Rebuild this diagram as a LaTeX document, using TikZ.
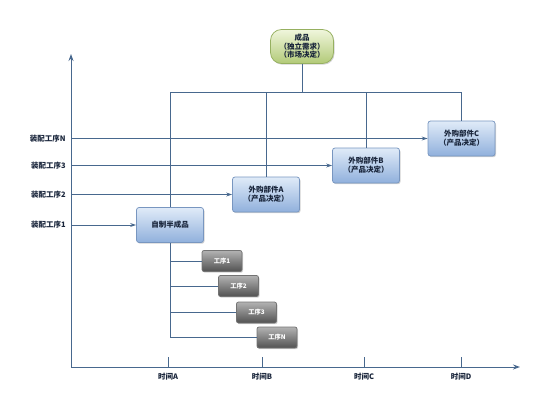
\documentclass[tikz,border=0pt]{standalone}
\usepackage{fontspec}
\setmainfont{Noto Sans CJK SC}
\usetikzlibrary{arrows.meta,shadows}

\definecolor{axisblue}{RGB}{72,104,142}
\definecolor{partdraw}{RGB}{120,150,192}
\definecolor{parttop}{RGB}{224,235,248}
\definecolor{partbot}{RGB}{144,176,220}
\definecolor{goaltop}{RGB}{240,246,220}
\definecolor{goalbot}{RGB}{178,202,120}
\definecolor{goaldraw}{RGB}{150,176,96}
\definecolor{boxtext}{RGB}{24,36,58}

\tikzset{every picture/.style={line width=0.75pt}}

\begin{document}
\begin{tikzpicture}[x=1pt,y=1pt,yscale=-1,
  axis/.style={draw=axisblue, line width=1pt},
  link/.style={draw=axisblue, line width=0.9pt},
  feed/.style={link, -{Stealth[length=6pt,width=4pt]}},
  boxshadow/.style={drop shadow={opacity=0.35, shadow xshift=1pt, shadow yshift=-1.2pt}},
  partbox/.style={boxshadow, draw=partdraw, top color=parttop, bottom color=partbot,
    rounded corners=2.5pt, minimum width=67pt, minimum height=35pt, inner sep=1pt,
    align=center, text=boxtext, font=\fontsize{7.5}{9}\selectfont\bfseries},
  stepbox/.style={boxshadow, draw=black!55, top color=black!30, bottom color=black!68,
    rounded corners=2pt, minimum width=40pt, minimum height=21pt, inner sep=1pt,
    text=white, font=\fontsize{6.3}{7}\selectfont\bfseries},
  goalbox/.style={boxshadow, draw=goaldraw, top color=goaltop, bottom color=goalbot,
    rounded corners=11pt, minimum width=63pt, minimum height=34pt, inner sep=1pt,
    align=center, text=boxtext, font=\fontsize{7.5}{8.6}\selectfont\bfseries},
  lvllabel/.style={anchor=east, inner sep=1pt, text=boxtext, font=\fontsize{7.5}{9}\selectfont\bfseries},
  timelabel/.style={anchor=north, inner sep=1pt, text=boxtext, font=\fontsize{7.5}{9}\selectfont\bfseries}]
\useasboundingbox (0,0) rectangle (554,392);

% axes
\coordinate (origin) at (71,367);
\coordinate (ytip) at (71,54);
\coordinate (xtip) at (520,367);
\draw [axis, -{Stealth[length=7pt,width=5pt]}] (origin) -- (ytip);
\draw [axis, -{Stealth[length=7pt,width=5pt]}] (origin) -- (xtip);

% nodes
\node [goalbox] (product) at (302,46.5) {成品\\（独立需求）\\（市场决定）};
\node [partbox] (semi) at (170,225) {自制半成品};
\node [partbox] (partA) at (266,194.5) {外购部件A\\（产品决定）};
\node [partbox] (partB) at (366,165.5) {外购部件B\\（产品决定）};
\node [partbox] (partC) at (461.5,138.5) {外购部件C\\（产品决定）};

\node [stepbox] (step1) at (222,261) {工序1};
\node [stepbox] (step2) at (238.5,286) {工序2};
\node [stepbox] (step3) at (256.5,312.5) {工序3};
\node [stepbox] (stepN) at (277,337.5) {工序N};

% bus from the product down
\coordinate (busL) at (170,92);
\coordinate (busR) at (462,92);
\draw [link] (product) -- (product |- busL);
\draw [link] (busL) -- (busR);
\draw [link] (busL) -- (semi.north);
\draw [link] (partA.north) -- (partA.north |- busL);
\draw [link] (partB.north) -- (partB.north |- busL);
\draw [link] (partC.north) -- (partC.north |- busL);

% steps of the semi-finished part
\draw [link] (semi.south) -- (semi.south |- stepN.west);
\foreach \s in {step1,step2,step3,stepN}
  \draw [link] (semi.south |- \s.west) -- (\s.west);

% assembly levels
\node [lvllabel] (lvl1) at (67,225) {装配工序1};
\node [lvllabel] (lvl2) at (67,194.5) {装配工序2};
\node [lvllabel] (lvl3) at (67,165.5) {装配工序3};
\node [lvllabel] (lvlN) at (67,138.5) {装配工序N};
\draw [feed] (origin |- semi.west) -- (semi.west);
\draw [feed] (origin |- partA.west) -- (partA.west);
\draw [feed] (origin |- partB.west) -- (partB.west);
\draw [feed] (origin |- partC.west) -- (partC.west);

% time ticks
\foreach \x/\t in {168/A,262/B,364/C,461/D}{
  \coordinate (tick\t) at (\x,367);
  \draw [axis] (tick\t) -- ++(0,-10);
  \node [timelabel] (time\t) at (\x,372) {时间\t};
}

\end{tikzpicture}
\end{document}
